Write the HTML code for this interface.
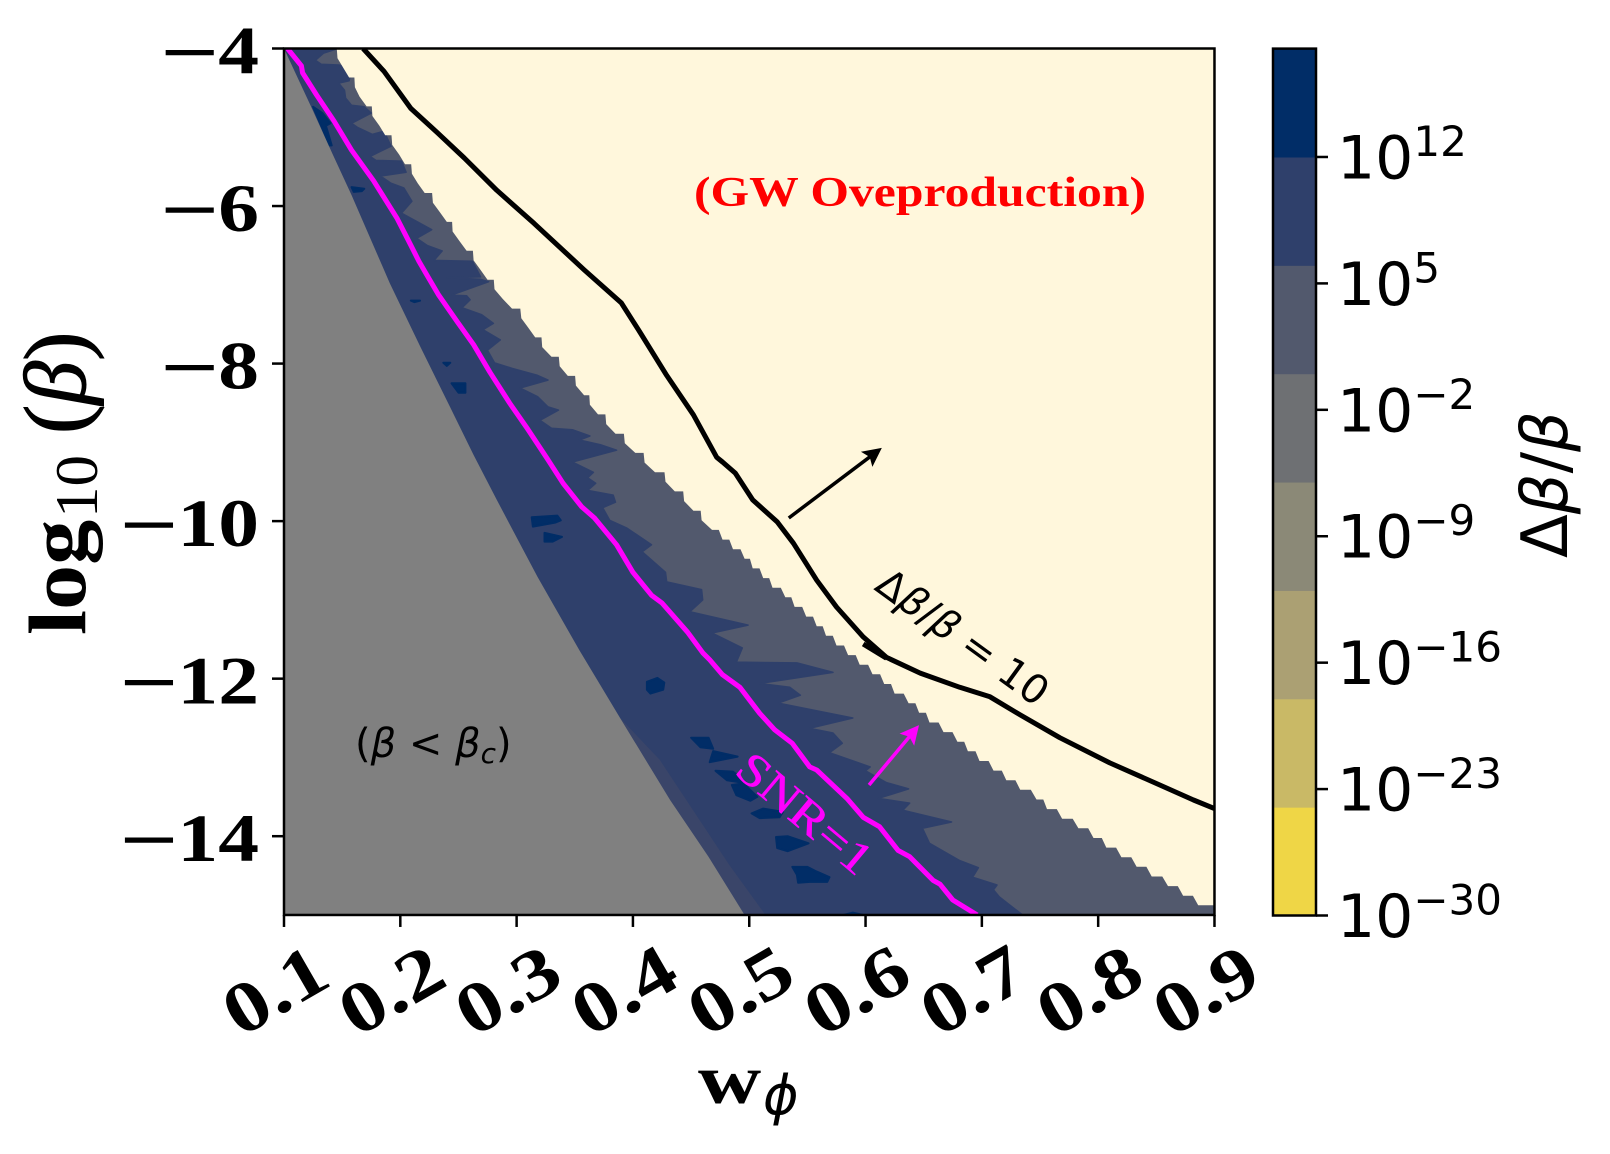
<!DOCTYPE html>
<html lang="en"><head><meta charset="utf-8"><title>Delta beta over beta contour chart</title>
<style>
html,body{margin:0;padding:0;background:#fff;width:1610px;height:1154px;overflow:hidden}
svg{display:block}
.cm{font-family:"Liberation Serif",serif;font-weight:bold;fill:#000}
.dj{font-family:"DejaVu Sans",sans-serif;fill:#000}
</style></head>
<body>
<svg id="chart" xmlns="http://www.w3.org/2000/svg" width="1610" height="1154" viewBox="0 0 1610 1154">
<defs><clipPath id="plot-clip"><rect x="284" y="48.5" width="930.5" height="867"/></clipPath></defs>
<g id="plot" clip-path="url(#plot-clip)"></g>
<g id="axes"></g>
<g id="colorbar"></g>
<text class="cm" font-size="82" transform="translate(85,635) rotate(-90) scale(1.1,1)">log</text>
<text class="cm" font-size="60" transform="translate(97,518) rotate(-90) scale(1.05,1)" style="font-weight:normal">10</text>
<text class="cm" font-size="88" transform="translate(85,434) rotate(-90)" style="font-weight:normal" stroke="#000" stroke-width="1">(<tspan font-style="italic">β</tspan>)</text>
<text class="cm" font-size="70" transform="translate(698,1103) scale(1.25,1)">w</text>
<text class="dj" font-size="54" font-style="italic" x="763" y="1114">ϕ</text>
<text class="dj" font-size="64" transform="translate(1567,558) rotate(-90)">Δ<tspan font-style="italic">β</tspan>/<tspan font-style="italic">β</tspan></text>
<text font-family="Liberation Serif, serif" font-weight="bold" font-size="42" fill="#ff0000" x="694" y="206" textLength="452" lengthAdjust="spacingAndGlyphs">(GW Oveproduction)</text>
<text class="dj" font-size="40" x="355" y="757">(<tspan font-style="italic">β</tspan> &lt; <tspan font-style="italic">β</tspan><tspan font-style="italic" font-size="28" dy="6">c</tspan><tspan dy="-6">)</tspan></text>
<text class="dj" font-size="40" transform="translate(873,589) rotate(36)">Δ<tspan font-style="italic">β</tspan>/<tspan font-style="italic">β</tspan> = 10</text>
<text font-family="Liberation Serif, serif" font-size="46" fill="#ff00ff" stroke="#ff00ff" stroke-width="0.5" transform="translate(733,773) rotate(40)" textLength="162" lengthAdjust="spacingAndGlyphs">SNR=1</text>
<script>
// ---- data (w_phi, log10 beta) ----
const xTicks = [0.1,0.2,0.3,0.4,0.5,0.6,0.7,0.8,0.9];
const yTicks = [-4,-6,-8,-10,-12,-14];
const cbLevels = [-30,-24,-18,-12,-6,0,6,12,18];
const cbColors = ['#efd646','#c9b966','#aba073','#8b8977','#6e7073','#52596d','#2f406b','#012d67'];
const cbTicks = [-30,-23,-16,-9,-2,5,12];
const edgeRowStart = -15;
const edgeRowStep = 0.1222;
const edgeW = [.900,.886,.873,.860,.846,.833,.820,.807,.796,.783,.769,.756,.747,.733,.721,.710,.698,.688,.679,.667,.655,.646,.637,.625,.616,.606,.595,.585,.575,.566,.558,.549,.539,.531,.520,.512,.503,.496,.486,.477,.468,.459,.452,.444,.436,.428,.419,.410,.402,.393,.385,.377,.370,.363,.358,.351,.344,.337,.330,.322,.316,.310,.304,.296,.288,.281,.275,.269,.263,.257,.251,.245,.240,.234,.228,.221,.215,.210,.204,.199,.193,.187,.182,.176,.171,.165,.161,.156,.151,.146,.140];
const navyEdge = [[.146,-4],[.140,-4.03],[.134,-4.06],[.127,-4.15],[.132,-4.20],[.147,-4.21],[.158,-4.25],[.156,-4.41],[.147,-4.44],[.152,-4.53],[.153,-4.63],[.158,-4.72],[.169,-4.74],[.175,-4.82],[.158,-4.95],[.163,-5.00],[.176,-5.09],[.186,-5.05],[.192,-5.24],[.174,-5.37],[.179,-5.42],[.201,-5.43],[.205,-5.57],[.183,-5.62],[.192,-5.71],[.203,-5.77],[.210,-5.94],[.201,-6.09],[.212,-6.18],[.227,-6.30],[.214,-6.41],[.223,-6.50],[.236,-6.57],[.229,-6.69],[.262,-6.70],[.269,-6.90],[.240,-6.91],[.269,-6.93],[.276,-6.96],[.244,-7.13],[.257,-7.14],[.260,-7.19],[.253,-7.29],[.270,-7.38],[.280,-7.49],[.271,-7.57],[.286,-7.70],[.275,-7.83],[.281,-7.99],[.296,-8.06],[.318,-8.15],[.327,-8.21],[.303,-8.31],[.318,-8.42],[.327,-8.55],[.336,-8.59],[.320,-8.72],[.330,-8.82],[.348,-8.84],[.363,-8.92],[.354,-8.97],[.372,-9.03],[.386,-9.10],[.348,-9.25],[.366,-9.38],[.361,-9.45],[.368,-9.52],[.361,-9.61],[.383,-9.67],[.385,-9.76],[.374,-9.83],[.380,-9.99],[.395,-10.09],[.416,-10.30],[.408,-10.39],[.428,-10.65],[.429,-10.77],[.459,-10.87],[.460,-11.00],[.449,-11.15],[.499,-11.32],[.468,-11.42],[.494,-11.61],[.489,-11.79],[.541,-11.80],[.572,-11.92],[.509,-12.06],[.535,-12.11],[.544,-12.21],[.525,-12.31],[.589,-12.50],[.552,-12.63],[.572,-12.69],[.580,-12.82],[.569,-12.94],[.604,-13.12],[.600,-13.17],[.618,-13.32],[.637,-13.40],[.611,-13.52],[.638,-13.58],[.632,-13.67],[.674,-13.82],[.649,-13.90],[.655,-14.09],[.681,-14.31],[.697,-14.40],[.692,-14.52],[.713,-14.62],[.710,-14.68],[.715,-14.77],[.735,-15]];
const grayEdge = [[.100,-4],[.124,-4.76],[.142,-5.35],[.158,-5.86],[.191,-6.98],[.217,-7.78],[.242,-8.53],[.263,-9.16],[.283,-9.73],[.318,-10.71],[.354,-11.64],[.389,-12.50],[.432,-13.54],[.465,-14.26],[.496,-15]];
const lightBandEdge = [[.389,-12.50],[.423,-13.03],[.483,-14.37],[.514,-15]];
const darkBlobs = [
 [[.125,-4.74],[.133,-4.82],[.140,-4.95],[.136,-4.98],[.141,-5.23],[.139,-5.23],[.132,-4.98]],
 [[.158,-5.76],[.169,-5.78],[.167,-5.81],[.160,-5.82]],
 [[.209,-7.20],[.217,-7.20],[.212,-7.22]],
 [[.237,-7.99],[.243,-7.99],[.240,-8.03]],
 [[.244,-8.25],[.256,-8.25],[.256,-8.37],[.250,-8.37]],
 [[.313,-9.95],[.335,-9.93],[.338,-9.99],[.333,-10.02],[.314,-10.07]],
 [[.324,-10.15],[.339,-10.20],[.331,-10.26],[.324,-10.26]],
 [[.412,-12.04],[.421,-11.99],[.427,-12.05],[.426,-12.14],[.415,-12.19],[.412,-12.14]],
 [[.450,-12.75],[.465,-12.75],[.469,-12.89],[.458,-12.87]],
 [[.469,-12.92],[.490,-12.99],[.466,-13.06]],
 [[.471,-13.17],[.486,-13.18],[.498,-13.33],[.481,-13.29]],
 [[.485,-13.35],[.495,-13.33],[.507,-13.50],[.501,-13.55],[.489,-13.48]],
 [[.502,-13.71],[.512,-13.65],[.529,-13.69],[.526,-13.76],[.509,-13.77]],
 [[.523,-14.01],[.533,-14.00],[.551,-14.09],[.533,-14.19],[.524,-14.15]],
 [[.537,-14.39],[.550,-14.39],[.558,-14.45],[.569,-14.52],[.567,-14.58],[.552,-14.58],[.542,-14.59],[.541,-14.49]],
 [[.581,-15],[.589,-14.97],[.598,-15]]
];
const snrCurve = [[.103,-4],[.115,-4.22],[.116,-4.31],[.128,-4.59],[.143,-4.92],[.158,-5.29],[.177,-5.68],[.197,-6.15],[.206,-6.41],[.216,-6.70],[.223,-6.88],[.233,-7.13],[.249,-7.47],[.263,-7.76],[.277,-8.11],[.294,-8.50],[.309,-8.82],[.326,-9.20],[.340,-9.52],[.356,-9.82],[.367,-9.96],[.386,-10.30],[.400,-10.65],[.416,-10.94],[.425,-11.04],[.447,-11.41],[.460,-11.67],[.466,-11.76],[.477,-11.95],[.492,-12.11],[.509,-12.44],[.522,-12.65],[.537,-12.82],[.552,-13.12],[.558,-13.16],[.584,-13.52],[.598,-13.76],[.612,-13.88],[.628,-14.18],[.638,-14.26],[.658,-14.56],[.664,-14.61],[.675,-14.81],[.696,-15]];
const deltaCurve = [[.168,-4],[.186,-4.29],[.209,-4.76],[.232,-5.07],[.255,-5.39],[.283,-5.80],[.315,-6.22],[.358,-6.81],[.390,-7.23],[.406,-7.60],[.429,-8.15],[.452,-8.65],[.472,-9.19],[.477,-9.25],[.488,-9.39],[.503,-9.73],[.524,-10.01],[.538,-10.28],[.558,-10.75],[.575,-11.09],[.598,-11.47],[.618,-11.73],[.647,-11.93],[.681,-12.11],[.707,-12.23],[.733,-12.46],[.767,-12.75],[.810,-13.07],[.853,-13.35],[.882,-13.54],[.900,-13.65]];
const deltaStub = [[.598,-11.56],[.618,-11.74]];
const blackArrow = [[.534,-9.96],[.614,-9.07]];
const magentaArrow = [[.603,-13.35],[.646,-12.59]];

// ---- axis functions ----
const X = w => 284 + (w - 0.1) * 1163.1;
const Y = b => 48.5 + (-4 - b) * 78.77;
const CB = e => 915.5 - (e + 30) * 18.06;
const NS = 'http://www.w3.org/2000/svg';
function mk(tag, attrs, parent, text) {
  const e = document.createElementNS(NS, tag);
  for (const k in attrs) e.setAttribute(k, attrs[k]);
  if (text !== undefined) e.textContent = text;
  parent.appendChild(e);
  return e;
}
const pts = a => a.map(p => X(p[0]).toFixed(1) + ',' + Y(p[1]).toFixed(1)).join(' ');
const plot = document.getElementById('plot');
const axes = document.getElementById('axes');
const cbar = document.getElementById('colorbar');
let el;

// regions
el = mk('rect', {x:X(.1), y:Y(-4), width:X(.9)-X(.1), height:Y(-15)-Y(-4), fill:'#52596d'}, plot);



el = mk('polygon', {points:pts(navyEdge.concat([[.1,-15],[.1,-4]])), fill:'#2f406b', stroke:'#2f406b', 'stroke-width':1.5, 'stroke-linejoin':'round'}, plot);



const stair = [];
for (let j = edgeW.length - 1; j >= 1; j--) {
  const b = edgeRowStart + j * edgeRowStep;
  stair.push([edgeW[j], b]);
  const every = j > 60 ? 3 : (j > 40 ? 2 : 1);
  if (j % every === 0) {
    stair.push([edgeW[j] + (every === 1 ? 0.65 : 0.9) * (edgeW[j-1] - edgeW[j]), b]);
  }
}
stair.push([.9, edgeRowStart + edgeRowStep]);
stair.push([.9, -3.9]);
stair.push([edgeW[edgeW.length - 1], -3.9]);
el = mk('polygon', {points:pts(stair), fill:'#fff7dc'}, plot);



darkBlobs.forEach(function (b) {
  const blob = mk('polygon', {points:pts(b), fill:'#012d67', stroke:'#012d67', 'stroke-width':2, 'stroke-linejoin':'round'}, plot);
  
  
});

el = mk('polygon', {points:pts(lightBandEdge.concat(grayEdge.slice().reverse().filter(p => p[1] <= -12.5))), fill:'#3a4569'}, plot);



el = mk('polygon', {points:pts(grayEdge.concat([[.1,-15]])), fill:'#808080'}, plot);



// curves
el = mk('polyline', {points:pts(deltaCurve), fill:'none', stroke:'#000', 'stroke-width':5, 'stroke-linejoin':'round'}, plot);



el = mk('polyline', {points:pts(deltaStub), fill:'none', stroke:'#000', 'stroke-width':5}, plot);



el = mk('polyline', {points:pts(snrCurve), fill:'none', stroke:'#ff00ff', 'stroke-width':5, 'stroke-linejoin':'round'}, plot);



function arrow(a, color) {
  const x0 = X(a[0][0]), y0 = Y(a[0][1]), x1 = X(a[1][0]), y1 = Y(a[1][1]);
  const L = Math.hypot(x1 - x0, y1 - y0), ux = (x1 - x0) / L, uy = (y1 - y0) / L;
  const g = mk('g', {}, plot);
  mk('line', {x1:x0, y1:y0, x2:x1 - ux * 12, y2:y1 - uy * 12, stroke:color, 'stroke-width':3.5}, g);
  const h = 19, w = 9.5;
  mk('polygon', {points:[[x1, y1], [x1 - ux*h - uy*w, y1 - uy*h + ux*w], [x1 - ux*h*0.8, y1 - uy*h*0.8], [x1 - ux*h + uy*w, y1 - uy*h - ux*w]].map(p => p.join(',')).join(' '), fill:color}, g);
  return g;
}
el = arrow(blackArrow, '#000');



el = arrow(magentaArrow, '#ff00ff');



// frame and ticks
el = mk('rect', {x:X(.1), y:Y(-4), width:X(.9)-X(.1), height:Y(-15)-Y(-4), fill:'none', stroke:'#000', 'stroke-width':2.5}, axes);



xTicks.forEach(function (t) {
  const tick = mk('line', {x1:X(t), x2:X(t), y1:Y(-15), y2:Y(-15) + 12, stroke:'#000', 'stroke-width':2.5}, axes);
  
  
  const lab = mk('text', {class:'cm', 'font-size':72, 'text-anchor':'middle', transform:'translate(' + (X(t) + 3) + ',' + (Y(-15) + 96) + ') rotate(-30) scale(1.2,1)'}, axes, t.toFixed(1));
  
  
});

yTicks.forEach(function (t) {
  const tick = mk('line', {x1:X(.1) - 12, x2:X(.1), y1:Y(t), y2:Y(t), stroke:'#000', 'stroke-width':2.5}, axes);
  
  
  const lab = mk('text', {class:'cm', 'font-size':68, 'text-anchor':'end', transform:'translate(259,' + (Y(t) + 25) + ') scale(1.2,1)'}, axes);
  
  
  const minus = mk('tspan', {'font-size':84, dy:7, 'font-weight':'normal', stroke:'#000', 'stroke-width':1}, lab, '\u2212');
  
  
  const digits = mk('tspan', {dy:-7}, lab, String(Math.abs(t)));
  
  
});

// colorbar
cbColors.forEach(function (c, i) {
  const top = CB(cbLevels[i + 1]), bot = CB(cbLevels[i]);
  const band = mk('rect', {x:1273, y:top, width:43, height:bot - top + 0.5, fill:c}, cbar);
  
  
});
el = mk('rect', {x:1273, y:CB(cbLevels[cbLevels.length - 1]), width:43, height:CB(cbLevels[0]) - CB(cbLevels[cbLevels.length - 1]), fill:'none', stroke:'#000', 'stroke-width':2.5}, cbar);



cbTicks.forEach(function (t) {
  const tick = mk('line', {x1:1316, x2:1328, y1:CB(t), y2:CB(t), stroke:'#000', 'stroke-width':2.5}, cbar);
  
  
  const lab = mk('text', {class:'dj', 'font-size':60, x:1337, y:CB(t) + 21.5}, cbar, '10');
  
  
  const sup = mk('tspan', {'font-size':42, dy:-22.5}, lab, String(t).replace('-', '\u2212'));
  
  
});
</script>
</svg>
</body></html>
